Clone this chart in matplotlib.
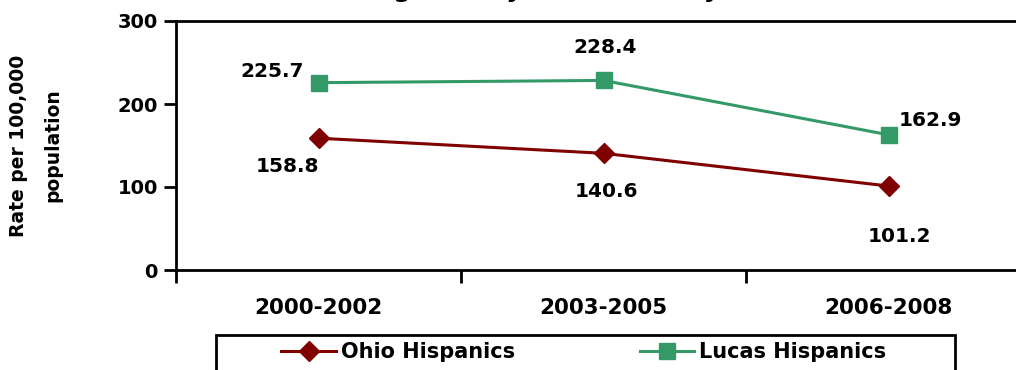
import matplotlib.pyplot as plt
import matplotlib.patches as patches
import numpy as np

# data
periods = ['2000-2002', '2003-2005', '2006-2008']
ohio = [158.8, 140.6, 101.2]
lucas = [225.7, 228.4, 162.9]
# label offsets (pixels) for the value labels
ohio_off = [(-31, -28), (3, -38), (11, -50)]
lucas_off = [(-46, 11), (2, 33), (42, 14)]

plt.rcParams['font.family'] = 'DejaVu Sans'
plt.rcParams['font.weight'] = 'bold'

W, H = 1016, 370
fig = plt.figure(figsize=(W/100, H/100), dpi=100)
ax = fig.add_axes([176/W, 1 - 270/H, 855/W, 249/H])

x = np.arange(len(periods))
ax.plot(x, ohio, color='#800000', lw=2.2, marker='D', ms=10.5, label='Ohio Hispanics')
ax.plot(x, lucas, color='#339966', lw=2.2, marker='s', ms=11.5, label='Lucas Hispanics')

for i in range(len(x)):
    ax.annotate(f'{ohio[i]:.1f}', (x[i], ohio[i]), xytext=ohio_off[i], textcoords='offset pixels',
                ha='center', va='center', fontsize=14.5, fontweight='bold')
    ax.annotate(f'{lucas[i]:.1f}', (x[i], lucas[i]), xytext=lucas_off[i], textcoords='offset pixels',
                ha='center', va='center', fontsize=14.5, fontweight='bold')

ax.set_xlim(-0.5, 2.5)
ax.set_ylim(0, 300)
ax.set_yticks([0, 100, 200, 300])
ax.set_xticks([-0.5, 0.5, 1.5, 2.5])
ax.set_xticklabels([])
ax.set_xticks(x, minor=True)
ax.set_xticklabels(periods, minor=True, fontsize=15.5, fontweight='bold')
ax.tick_params(axis='x', which='minor', length=0, pad=20)
ax.tick_params(axis='x', which='major', length=9, width=2, direction='out')
ax.tick_params(axis='y', length=9, width=2, direction='out', labelsize=14, pad=4)
for lab in ax.get_yticklabels():
    lab.set_fontweight('bold')
for s in ax.spines.values():
    s.set_linewidth(2)

ax.set_ylabel('Rate per 100,000\npopulation', fontsize=13.5, fontweight='bold', labelpad=40, linespacing=2.0)

# title is mostly cropped off at the top of the image
fig.text(0.42, 1 + 3/H, 'Death Rates among Men by Lucas County', ha='center', va='baseline',
         fontsize=18, fontweight='bold')

leg = fig.legend(loc='center', bbox_to_anchor=(584/W, 1 - 352/H), ncol=2, frameon=False,
                 fontsize=15, handlelength=2.6, handletextpad=0.25, columnspacing=6.0)
for t in leg.get_texts():
    t.set_fontweight('bold')

# legend box, cut off by the bottom edge like the original
fig.patches.append(patches.Rectangle((216/W, 1 - 385/H), 739/W, 50/H, transform=fig.transFigure,
                                     fill=False, edgecolor='black', linewidth=2))

fig.savefig('out.png', dpi=100)
